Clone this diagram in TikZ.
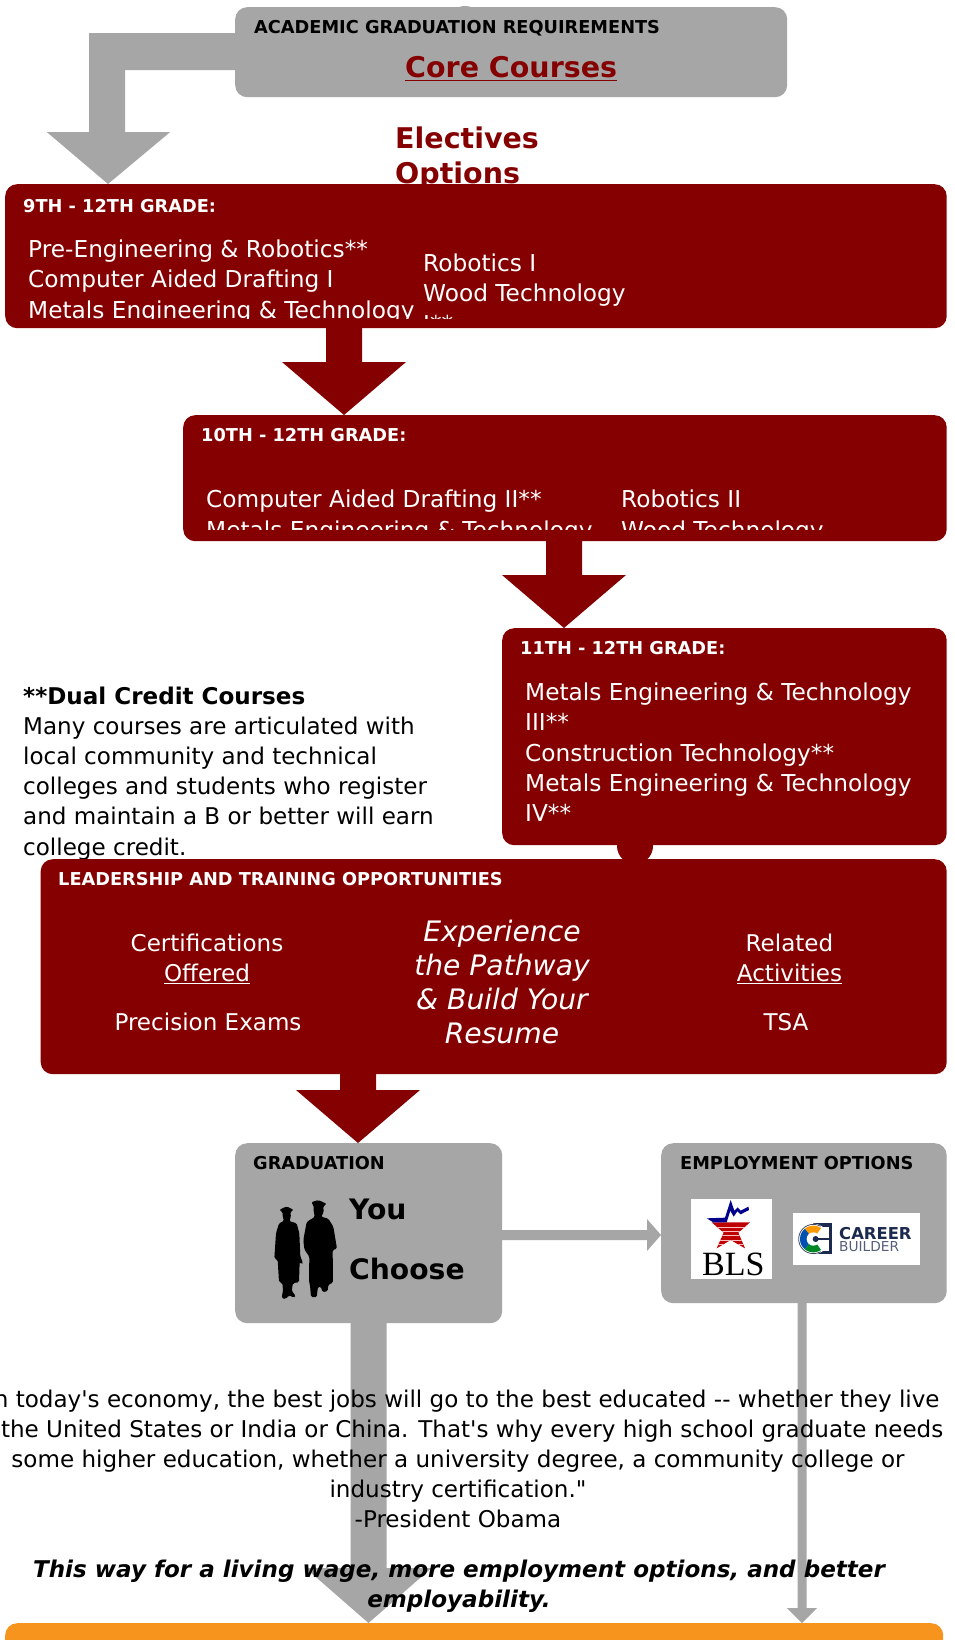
\documentclass[tikz,border=0pt]{standalone}
\usepackage{fontspec}
\setmainfont{DejaVu Sans}[Ligatures=TeXOff]
\newfontfamily\timesface{Liberation Serif}
\usetikzlibrary{calc}
\definecolor{maroonbox}{HTML}{850000}
\definecolor{greybox}{HTML}{A6A6A6}
\definecolor{orangebox}{HTML}{F7941E}
\definecolor{logonavy}{HTML}{1B2A4E}
\tikzset{
  boxbase/.style={rectangle,rounded corners=12pt,inner sep=0pt,anchor=north west},
  redbox/.style={boxbase,fill=maroonbox},
  greyb/.style={boxbase,fill=greybox},
  orangeb/.style={boxbase,fill=orangebox},
  txt/.style={inner sep=0pt,anchor=base west,align=left},
  ctxt/.style={inner sep=0pt,anchor=base,align=center},
  label/.style={txt,font=\fontsize{17.75}{22}\selectfont\bfseries},
  body/.style={txt,font=\fontsize{23.05}{30.2}\selectfont},
  inbox/.style={txt,text=white,font=\fontsize{23.25}{30.2}\selectfont},
  bodyc/.style={ctxt,font=\fontsize{23.05}{30}\selectfont},
  big/.style={txt,font=\fontsize{28.5}{34}\selectfont\bfseries,text=maroonbox},
}
% #1 colour, #2 from node, #3 to node, #4 name of x coordinate, #5 shaft half, #6 head half, #7 head height
\newcommand{\blockdown}[7]{%
  \fill[#1] ($(#2.south -| #4)+(-#5,-2)$) -- ($(#3.north -| #4)+(-#5,-#7)$) -- ($(#3.north -| #4)+(-#6,-#7)$)
    -- (#3.north -| #4) -- ($(#3.north -| #4)+(#6,-#7)$) -- ($(#3.north -| #4)+(#5,-#7)$) -- ($(#2.south -| #4)+(#5,-2)$) -- cycle;}
\begin{document}
\begin{tikzpicture}[x=1pt,y=-1pt]
\useasboundingbox (0,0) rectangle (954,1640);
\fill[white] (0,0) rectangle (954,1640);

% ----- positions of the block arrows
\coordinate (xa) at (344,0);
\coordinate (xb) at (564,0);
\coordinate (xc) at (358,0);
\coordinate (xd) at (368.5,0);
\coordinate (xe) at (802,0);
\coordinate (yf) at (0,1235);

% ----- texts that lie under the boxes
\node[big] (electives) at (395,183) {Electives\\Options};
\node[body] (dual) at (23,855) {\textbf{**Dual Credit Courses}\\Many courses are articulated with\\local community and technical\\colleges and students who register\\and maintain a B or better will earn\\college credit.};

% ----- small bumps
\fill[greybox] (465,24) circle[radius=18];
\fill[maroonbox] (635,846) circle[radius=18];

% ----- boxes
\node[greyb,minimum width=552pt,minimum height=90pt] (core) at (235,7) {};
\node[redbox,minimum width=941.5pt,minimum height=144pt] (g9) at (5,184) {};
\node[redbox,minimum width=763.5pt,minimum height=126pt] (g10) at (183,415) {};
\node[redbox,minimum width=444.5pt,minimum height=217pt] (g11) at (502,628) {};
\node[redbox,minimum width=906pt,minimum height=215pt] (lead) at (40.5,859) {};
\node[greyb,minimum width=267pt,minimum height=180pt] (grad) at (235,1143) {};
\node[greyb,minimum width=285.5pt,minimum height=160pt] (emp) at (661,1143) {};
\node[orangeb,minimum width=938pt,minimum height=40pt] (bottom) at (5,1623) {};

% ----- connectors
\fill[greybox] ($(core.west)+(2,-19)$) -- ($(core.west)+(-146,-19)$) -- ($(core.west)+(-146,80)$) -- ($(core.west)+(-188,80)$)
  -- ($(g9.north west)+(103,0)$) -- ($(core.west)+(-65,80)$) -- ($(core.west)+(-110,80)$) -- ($(core.west)+(-110,18)$) -- ($(core.west)+(2,18)$) -- cycle;
\blockdown{maroonbox}{g9}{g10}{xa}{18}{62}{53}
\blockdown{maroonbox}{g10}{g11}{xb}{18}{62}{53}
\blockdown{maroonbox}{lead}{grad}{xc}{18}{62}{53}
\blockdown{greybox}{grad}{bottom}{xd}{18}{63}{55}
\blockdown{greybox}{emp}{bottom}{xe}{4.5}{15}{15}
\fill[greybox] ($(grad.east |- yf)+(-2,-5)$) -- ($(emp.west |- yf)+(-14,-5)$) -- ($(emp.west |- yf)+(-14,-16)$) -- (emp.west |- yf) -- ($(emp.west |- yf)+(-14,16)$) -- ($(emp.west |- yf)+(-14,5)$) -- ($(grad.east |- yf)+(-2,5)$) -- cycle;

% ----- top box
\node[label] (acad) at (254,34) {ACADEMIC GRADUATION REQUIREMENTS};
\node[big] (corec) at (405,78) {\underline{Core Courses}};

% ----- 9th
\node[label,text=white] (l9) at (23,212) {9TH - 12TH GRADE:};
\begin{scope}
\clip (5,184) rectangle (946.5,318);
\node[inbox] (c9a) at (28,318) {Pre-Engineering \& Robotics**\\Computer Aided Drafting I\\Metals Engineering \& Technology};
\node[inbox] (c9b) at (423,332) {Robotics I\\Wood Technology\\I**};
\end{scope}

% ----- 10th
\node[label,text=white] (l10) at (201,441.5) {10TH - 12TH GRADE:};
\begin{scope}
\clip (183,415) rectangle (946.5,529);
\node[inbox] (c10a) at (206,538) {Computer Aided Drafting II**\\Metals Engineering \& Technology};
\node[inbox] (c10b) at (621,538) {Robotics II\\Wood Technology};
\end{scope}

% ----- 11th
\node[label,text=white] (l11) at (520,654) {11TH - 12TH GRADE:};
\node[inbox] (c11) at (525,821.5) {Metals Engineering \& Technology\\III**\\Construction Technology**\\Metals Engineering \& Technology\\IV**};

% ----- leadership
\node[label,text=white] (llead) at (58,885) {LEADERSHIP AND TRAINING OPPORTUNITIES};
\node[bodyc,text=white] (cert) at (207,981) {Certifications\\\underline{Offered}};
\node[bodyc,text=white] (prec) at (208,1030) {Precision Exams};
\node[ctxt,text=white,font=\fontsize{28.2}{33.7}\selectfont\itshape] (expe) at (502,1043) {Experience\\the Pathway\\\& Build Your\\Resume};
\node[bodyc,text=white] (rel) at (789.5,981) {Related\\\underline{Activities}};
\node[bodyc,text=white] (tsa) at (786,1030) {TSA};

% ----- graduation
\node[label] (lgrad) at (253,1169) {GRADUATION};
\node[txt,font=\fontsize{28.2}{60}\selectfont\bfseries] (you) at (349,1279) {You\\Choose};
\begin{scope}[shift={(265,1190)},x=0.3333pt,y=-0.3333pt]
  \fill[black,rounded corners=1.5pt] (42,60) -- (65,49) -- (87,60) -- (76,65) -- (78,82) -- (72,93) -- (95,100) -- (103,130) -- (106,200) -- (114,218) -- (110,224) -- (104,215) -- (102,277) -- (84,279) -- (80,302) -- (92,318) -- (88,323) -- (72,316) -- (62,327) -- (50,325) -- (54,300) -- (52,279) -- (42,276) -- (38,210) -- (28,205) -- (33,130) -- (42,100) -- (58,92) -- (53,82) -- (53,66) -- cycle;
  \fill[black,rounded corners=1.5pt] (138,37) -- (160,30) -- (186,42) -- (175,48) -- (176,68) -- (168,80) -- (190,86) -- (205,110) -- (216,176) -- (203,180) -- (204,278) -- (190,284) -- (188,304) -- (172,306) -- (168,290) -- (159,290) -- (155,322) -- (138,321) -- (135,285) -- (132,275) -- (133,200) -- (118,178) -- (115,150) -- (125,96) -- (150,80) -- (146,66) -- (146,46) -- cycle;
\end{scope}

% ----- employment
\node[label] (lemp) at (680,1169) {EMPLOYMENT OPTIONS};
\begin{scope}[shift={(685,1190)},x=0.3333pt,y=-0.3333pt]
  \fill[white] (18,27) rectangle (261,267);
  \fill[white] (324,69) rectangle (705,224);
  % BLS star
  \begin{scope}
    \clip (80,97) -- (195,97) -- (160,128) -- (180,175) -- (137,150) -- (95,175) -- (116,128) -- cycle;
    \fill[red!75!black] (60,90) rectangle (200,180);
    \foreach \yy in {111,124,137,150,163} \draw[red!25,line width=0.6pt] (60,\yy) -- (200,\yy);
  \end{scope}
  \fill[blue!55!black] (65,85) -- (120,83) -- (137,30) -- (148,62) -- (158,52) -- (167,62) -- (190,50) -- (192,60) -- (167,73) -- (157,64) -- (146,80) -- (136,62) -- (125,97) -- (85,97) -- cycle;
  % Career Builder emblem
  \fill[logonavy] (385,100) rectangle (442,192);
  \fill[white] (385,147) circle[radius=46];
  \fill[white] (395,110) rectangle (432,182);
  \fill[orange!80!yellow] (385,147) -- plot[domain=55:130,samples=10] ({385+40*cos(\x)},{147-40*sin(\x)}) -- cycle;
  \fill[blue!55!cyan!70!black] (385,147) -- plot[domain=130:230,samples=10] ({385+40*cos(\x)},{147-40*sin(\x)}) -- cycle;
  \fill[green!45!black!85!cyan] (385,147) -- plot[domain=230:305,samples=10] ({385+40*cos(\x)},{147-40*sin(\x)}) -- cycle;
  \fill[white] (385,147) circle[radius=20];
  \fill[logonavy] (392,147) circle[radius=9];
  \fill[logonavy] (392,144) rectangle (434,150);
  \draw[logonavy!60!gray,line width=0.8pt] plot[domain=60:300,samples=20] ({385+44*cos(\x)},{147-44*sin(\x)});
\end{scope}
\node[inner sep=0pt,anchor=base west,font=\fontsize{34}{34}\timesface\selectfont] (bls) at (702,1275.5) {BLS};
\node[inner sep=0pt,anchor=base west,font=\fontsize{16.4}{18}\selectfont\bfseries,text=logonavy] (cb1) at (839,1239.5) {CAREER};
\node[inner sep=0pt,anchor=base west,font=\fontsize{13.7}{15}\selectfont,text=logonavy!75] (cb2) at (839,1251) {BUILDER};

% ----- quote
\node[bodyc] (quote) at (458,1527) {"In today's economy, the best jobs will go to the best educated -- whether they live\\in the United States or India or China. That's why every high school graduate needs\\some higher education, whether a university degree, a community college or\\industry certification."\\-President Obama};
\node[ctxt,font=\fontsize{23.05}{30}\selectfont\bfseries\itshape] (way) at (459,1607) {This way for a living wage, more employment options, and better\\employability.};
\end{tikzpicture}
\end{document}
